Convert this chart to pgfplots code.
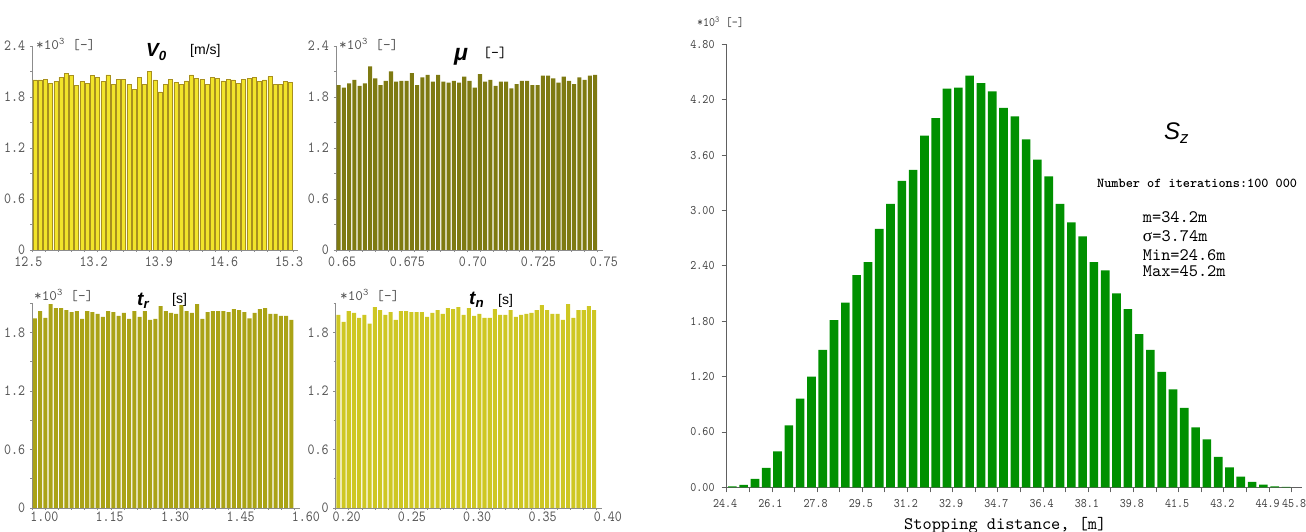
\documentclass[border=0pt]{standalone}
\usepackage{fontspec}
\setmainfont{Liberation Sans}
\newfontfamily\lticks[FakeStretch=0.86]{lmmono10-regular.otf}
\newfontfamily\rticks[FakeStretch=0.88]{lmmono10-regular.otf}
\newfontfamily\lmmono{lmmono10-regular.otf}
\newfontfamily\lmmonob{lmmonolt10-bold.otf}
\newfontfamily\sergreek{Liberation Serif}
\usepackage{pgfplots}
\pgfplotsset{compat=1.18}

\definecolor{vcol}{HTML}{F2E42A}
\definecolor{vedge}{HTML}{A8901E}
\definecolor{mucol}{HTML}{7E7A12}
\definecolor{trcol}{HTML}{AAA316}
\definecolor{tncol}{HTML}{CEC723}
\definecolor{szcol}{HTML}{009000}
\definecolor{axgray}{HTML}{8C8C8C}
\definecolor{lblgray}{HTML}{555555}
\definecolor{raxis}{HTML}{606060}

\pgfplotstableread{
x y
12.528 2.00
12.584 2.00
12.640 2.01
12.696 1.96
12.752 1.98
12.808 2.03
12.864 2.08
12.920 2.05
12.976 1.94
13.032 1.98
13.088 1.96
13.144 2.05
13.200 2.03
13.256 1.98
13.312 2.06
13.368 1.95
13.424 2.01
13.480 2.01
13.536 1.95
13.592 1.89
13.648 2.03
13.704 1.95
13.760 2.10
13.816 2.00
13.872 1.86
13.928 1.95
13.984 2.01
14.040 1.97
14.096 1.95
14.152 1.99
14.208 2.06
14.264 2.02
14.320 2.01
14.376 1.95
14.432 2.03
14.488 2.02
14.544 1.99
14.600 2.01
14.656 2.00
14.712 1.96
14.768 2.01
14.824 2.02
14.880 2.03
14.936 1.98
14.992 2.00
15.048 2.04
15.104 1.95
15.160 1.95
15.216 1.98
15.272 1.97
}\vzero

\pgfplotstableread{
x y
0.651 1.94
0.653 1.91
0.655 1.96
0.657 2.00
0.659 1.93
0.661 1.96
0.663 2.16
0.665 2.02
0.667 1.94
0.669 1.99
0.671 2.10
0.673 1.98
0.675 1.99
0.677 1.99
0.679 2.08
0.681 1.94
0.683 2.03
0.685 2.06
0.687 1.98
0.689 2.06
0.691 1.98
0.693 1.97
0.695 1.99
0.697 1.97
0.699 2.04
0.701 1.99
0.703 1.91
0.705 2.07
0.707 1.98
0.709 2.00
0.711 1.93
0.713 1.98
0.715 1.98
0.717 1.90
0.719 1.95
0.721 1.99
0.723 1.99
0.725 1.94
0.727 1.94
0.729 2.05
0.731 2.05
0.733 2.02
0.735 1.97
0.737 2.04
0.739 1.99
0.741 1.95
0.743 2.03
0.745 2.00
0.747 2.05
0.749 2.06
}\mudata

\pgfplotstableread{
x y
1.006 1.945
1.018 2.02
1.030 1.95
1.042 2.09
1.054 2.05
1.066 2.05
1.078 2.03
1.090 2.01
1.102 2.02
1.114 1.94
1.126 2.02
1.138 2.01
1.150 1.99
1.162 1.96
1.174 2.02
1.186 2.01
1.198 1.97
1.210 2.00
1.222 1.94
1.234 2.02
1.246 1.96
1.258 2.02
1.270 1.93
1.282 1.94
1.294 2.07
1.306 2.02
1.318 2.00
1.330 1.99
1.342 2.08
1.354 2.02
1.366 2.00
1.378 2.09
1.390 1.94
1.402 2.01
1.414 2.02
1.426 2.02
1.438 2.02
1.450 2.01
1.462 2.04
1.474 2.03
1.486 2.01
1.498 1.945
1.510 2.00
1.522 2.04
1.534 2.05
1.546 1.99
1.558 1.99
1.570 1.97
1.582 1.97
1.594 1.93
}\trdata

\pgfplotstableread{
x y
0.202 1.98
0.206 1.91
0.210 2.02
0.214 2.00
0.218 1.95
0.222 1.98
0.226 1.89
0.230 2.06
0.234 2.03
0.238 1.98
0.242 2.01
0.246 1.93
0.250 2.02
0.254 2.02
0.258 2.01
0.262 2.01
0.266 2.01
0.270 1.96
0.274 2.00
0.278 2.03
0.282 1.99
0.286 2.05
0.290 2.04
0.294 2.06
0.298 1.98
0.302 2.05
0.306 1.97
0.310 1.99
0.314 1.95
0.318 1.95
0.322 2.04
0.326 1.98
0.330 1.98
0.334 2.03
0.338 1.96
0.342 1.98
0.346 1.99
0.350 2.00
0.354 2.03
0.358 2.08
0.362 2.03
0.366 1.99
0.370 1.99
0.374 1.93
0.378 2.09
0.382 1.95
0.386 2.03
0.390 2.03
0.394 2.07
0.398 2.03
}\tndata

\pgfplotstableread{
x y
24.614 0.010
25.042 0.025
25.470 0.090
25.898 0.210
26.326 0.390
26.754 0.670
27.182 0.960
27.610 1.200
28.038 1.490
28.466 1.810
28.894 2.000
29.322 2.300
29.750 2.440
30.178 2.800
30.606 3.070
31.034 3.320
31.462 3.440
31.890 3.810
32.318 4.000
32.746 4.320
33.174 4.330
33.602 4.460
34.030 4.380
34.458 4.290
34.886 4.110
35.314 4.020
35.742 3.770
36.170 3.550
36.598 3.370
37.026 3.070
37.454 2.870
37.882 2.720
38.310 2.440
38.738 2.350
39.166 2.100
39.594 1.930
40.022 1.660
40.450 1.490
40.878 1.250
41.306 1.060
41.734 0.860
42.162 0.650
42.590 0.520
43.018 0.330
43.446 0.217
43.874 0.115
44.302 0.060
44.730 0.030
45.158 0.010
45.586 0.005
}\szdata

\pgfplotsset{
  smallpanel/.style={
    scale only axis, axis lines*=left,
    axis line style={axgray, line width=0.7pt, -},
    enlargelimits=false, ymin=0,
    ybar, bar shift=0pt,
    tick style={axgray, line width=0.6pt},
    tick align=outside,
    major tick length=2.5pt, minor tick length=2pt,
    minor x tick num=4,
    minor ytick={0.3,0.9,1.5,2.1},
    tick label style={font=\lticks\fontsize{15.5}{17}\selectfont, text=lblgray},
    yticklabel style={inner sep=0pt, xshift=-4.5pt},
    xticklabel style={inner sep=0pt},
  },
  toppanel/.style={smallpanel, ymax=2.4,
    ytick={0,0.6,1.2,1.8,2.4}, yticklabels={0,0.6,1.2,1.8,2.4},
    xticklabel style={yshift=-4.5pt}},
  botpanel/.style={smallpanel, ymax=2.1,
    ytick={0,0.6,1.2,1.8}, yticklabels={0,0.6,1.2,1.8},
    xticklabel style={yshift=-1.5pt}},
}

\begin{document}
\begin{tikzpicture}
% ---------- V0 ----------
\begin{axis}[toppanel, at={(32.3pt,282pt)}, anchor=south west,
  width=265.6pt, height=204pt, xmin=12.5, xmax=15.35, bar width=0.043,
  xtick={12.5,13.2,13.9,14.6,15.3}, xticklabels={12.5,13.2,13.9,14.6,15.3},
  xticklabel style={xshift=-4pt}]
\addplot[fill=vcol, draw=vedge, line width=0.5pt] table[x=x,y=y] {\vzero};
\end{axis}
% ---------- mu ----------
\begin{axis}[toppanel, at={(336pt,282pt)}, anchor=south west,
  width=267pt, height=204pt, xmin=0.65, xmax=0.752, bar width=0.00155,
  xtick={0.65,0.675,0.70,0.725,0.75}, xticklabels={0.65,0.675,0.70,0.725,0.75},
  xticklabel style={xshift=6pt}]
\addplot[fill=mucol, draw=none] table[x=x,y=y] {\mudata};
\end{axis}
% ---------- t_r ----------
\begin{axis}[botpanel, at={(32.3pt,24pt)}, anchor=south west,
  width=267.7pt, height=204.75pt, xmin=1.0, xmax=1.6138, bar width=0.0092,
  xtick={1.0,1.15,1.30,1.45,1.60}, xticklabels={1.00,1.15,1.30,1.45,1.60},
  xticklabel style={xshift=12pt}]
\addplot[fill=trcol, draw=none] table[x=x,y=y] {\trdata};
\end{axis}
% ---------- t_n ----------
\begin{axis}[botpanel, at={(335.7pt,24pt)}, anchor=south west,
  width=266.3pt, height=204.75pt, xmin=0.2, xmax=0.404, bar width=0.0031,
  xtick={0.20,0.25,0.30,0.35,0.40}, xticklabels={0.20,0.25,0.30,0.35,0.40},
  xticklabel style={xshift=11pt}]
\addplot[fill=tncol, draw=none] table[x=x,y=y] {\tndata};
\end{axis}
% ---------- S_z ----------
\begin{axis}[scale only axis, at={(726.7pt,44.7pt)}, anchor=south west,
  width=575.5pt, height=443pt, xmin=24.4, xmax=46.2, ymin=0, ymax=4.8,
  enlargelimits=false, axis lines*=left,
  axis line style={raxis, line width=0.8pt, -},
  ybar, bar shift=0pt, bar width=0.327,
  tick style={raxis, line width=0.8pt}, tick align=outside,
  major tick length=5pt, minor tick length=5pt,
  ytick={0,0.6,1.2,1.8,2.4,3.0,3.6,4.2,4.8},
  yticklabels={0.00,0.60,1.20,1.80,2.40,3.00,3.60,4.20,4.80},
  xtick={24.4,26.112,27.824,29.536,31.248,32.96,34.672,36.384,38.096,39.808,41.52,43.232,44.944},
  xticklabels={24.4,26.1,27.8,29.5,31.2,32.9,34.7,36.4,38.1,39.8,41.5,43.2,44.9},
  extra x ticks={45.8}, extra x tick labels={45.8},
  extra x tick style={xticklabel style={xshift=4pt}},
  minor xtick={25.256,26.968,28.68,30.392,32.104,33.816,35.528,37.24,38.952,40.664,42.376,44.088},
  tick label style={font=\rticks\fontsize{13}{15}\selectfont, text=black!75},
  yticklabel style={inner sep=0pt, xshift=-7pt},
  xticklabel style={inner sep=0pt, yshift=-7pt, xshift=-1.5pt}]
\addplot[fill=szcol, draw=none] table[x=x,y=y] {\szdata};
\end{axis}

% ---------- texts ----------
\node[anchor=base west, inner sep=0, font=\lmmono\fontsize{14.5}{16}\selectfont, text=lblgray] at (36pt,482pt) {*10\textsuperscript{3} [-]};
\node[anchor=base west, inner sep=0, font=\lmmono\fontsize{14.5}{16}\selectfont, text=lblgray] at (339pt,482pt) {*10\textsuperscript{3} [-]};
\node[anchor=base west, inner sep=0, font=\lmmono\fontsize{14.5}{16}\selectfont, text=lblgray] at (34pt,231pt) {*10\textsuperscript{3} [-]};
\node[anchor=base west, inner sep=0, font=\lmmono\fontsize{14.5}{16}\selectfont, text=lblgray] at (340pt,231pt) {*10\textsuperscript{3} [-]};

\node[anchor=base west, inner sep=0, font=\bfseries\itshape\fontsize{19}{21}\selectfont] at (146pt,475pt) {V\textsubscript{0}};
\node[anchor=base west, inner sep=0, font=\fontsize{14}{16}\selectfont] at (190pt,477pt) {[m/s]};
\node[anchor=base west, inner sep=0, font=\bfseries\itshape\fontsize{23}{25}\selectfont] at (454pt,471pt) {μ};
\node[anchor=base west, inner sep=0, font=\lmmono\fontsize{15}{17}\selectfont] at (483pt,474pt) {[-]};
\node[anchor=base west, inner sep=0, font=\bfseries\itshape\fontsize{19}{21}\selectfont] at (137pt,226pt) {t\textsubscript{r}};
\node[anchor=base west, inner sep=0, font=\fontsize{14}{16}\selectfont] at (172pt,228pt) {[s]};
\node[anchor=base west, inner sep=0, font=\bfseries\itshape\fontsize{19}{21}\selectfont] at (469pt,227pt) {t\textsubscript{n}};
\node[anchor=base west, inner sep=0, font=\fontsize{14}{16}\selectfont] at (498pt,227pt) {[s]};

\node[anchor=base west, inner sep=0, font=\rticks\fontsize{13}{15}\selectfont, text=black!75] at (697pt,505.5pt) {*10\textsuperscript{3} [-]};
\node[anchor=base west, inner sep=0, font=\itshape\fontsize{24}{26}\selectfont] at (1164pt,392pt) {S\textsubscript{z}};
\node[anchor=base west, inner sep=0, font=\lmmonob\fontsize{13.6}{15}\selectfont] at (1097pt,344.4pt) {Number of iterations:100 000};
\node[anchor=base west, inner sep=0, font=\lmmono\fontsize{17.5}{19}\selectfont] at (1142.7pt,309.3pt) {m=34.2m};
\node[anchor=base west, inner sep=0, font=\lmmono\fontsize{17.5}{19}\selectfont] at (1142.7pt,290.6pt) {{\sergreek σ}=3.74m};
\node[anchor=base west, inner sep=0, font=\lmmono\fontsize{17.5}{19}\selectfont] at (1142.7pt,271pt) {Min=24.6m};
\node[anchor=base west, inner sep=0, font=\lmmono\fontsize{17.5}{19}\selectfont] at (1142.7pt,255pt) {Max=45.2m};
\node[anchor=base west, inner sep=0, font=\lmmono\fontsize{17.5}{19}\selectfont] at (904pt,2.5pt) {Stopping distance, [m]};

\pgfresetboundingbox
\path[use as bounding box] (0,0) rectangle (1306pt,532pt);
\end{tikzpicture}
\end{document}
